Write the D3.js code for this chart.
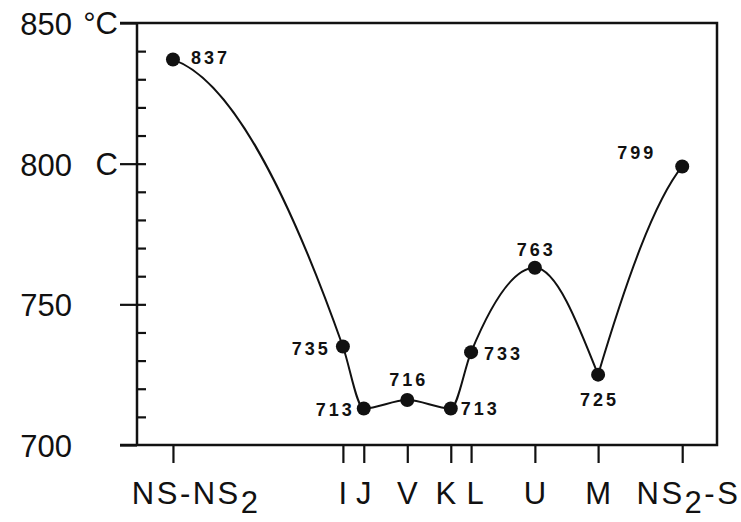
<!DOCTYPE html>
<html>
<head>
<meta charset="UTF-8">
<script src="https://d3js.org/d3.v7.min.js"></script>
<style>
  body { margin: 0; background: #fff; }
  svg text { font-family: "Liberation Sans", Arial, sans-serif; fill: #111; }
  .axis line { stroke: #111; stroke-width: 2.2px; }
  .axis .domain { display: none; }
  .frame { stroke: #111; stroke-width: 2.5px; fill: none; }
  .curve { fill: none; stroke: #111; stroke-width: 2px; }
  .dot { fill: #111; }
  .val { font-size: 18px; font-weight: bold; letter-spacing: 3px; }
  .tick-label { font-size: 31px; }
  .cat { font-size: 31px; letter-spacing: 2.5px; }
</style>
</head>
<body>
<svg id="chart" width="741" height="522"></svg>
<script>
// compositions along the join (0-100 scale), their names and liquidus temperatures
const categories = ["NS-NS_2", "I", "J", "V", "K", "L", "U", "M", "NS_2-S"];
const composition = [6.2, 35.5, 39.1, 46.6, 54.1, 57.6, 68.6, 79.5, 94.0];
const temperature = [837, 735, 713, 716, 713, 733, 763, 725, 799];
const yTicks = [700, 750, 800, 850];
const yMinor = [710, 720, 730, 740, 750, 760, 770, 780, 790, 800, 810, 820, 830, 840];
const yUnits = [[850, "°C"], [800, "C"]];

const svg = d3.select("#chart");
const x = d3.scaleLinear().domain([0, 100]).range([137, 717]);
const y = d3.scaleLinear().domain([700, 850]).range([445, 23]);
const [x0, x1] = x.range(), yTop = y(850), yBot = y(700);

// frame, top and bottom lines stick out left of the axis
svg.append("path").attr("class", "frame")
    .attr("d", `M${x0 - 17},${yTop}H${x1}V${yBot}H${x0 - 17}M${x0},${yTop}V${yBot}`);

svg.append("g").attr("class", "axis")
    .attr("transform", `translate(${x0},0)`)
    .call(d3.axisRight(y).tickValues(yMinor).tickSize(9).tickFormat(""));

svg.append("g").attr("class", "axis")
    .attr("transform", `translate(${x0},0)`)
    .call(d3.axisLeft(y).tickValues(yTicks).tickSize(17).tickPadding(48))
    .selectAll("text").attr("class", "tick-label").attr("dy", "0.37em");

svg.selectAll(".unit").data(yUnits).join("text")
    .attr("class", "tick-label unit")
    .attr("text-anchor", "end")
    .attr("x", x0 - 19)
    .attr("y", d => y(d[0]))
    .attr("dy", "0.37em")
    .text(d => d[1]);

svg.append("g").attr("class", "axis")
    .attr("transform", `translate(0,${yBot})`)
    .call(d3.axisBottom(x).tickValues(composition).tickSize(18).tickFormat(""));

// category names, "_2" is a lowered 2
const catShift = {"NS-NS_2": 22, "NS_2-S": 5, "K": -5, "L": 4};
svg.append("g").selectAll("text").data(categories).join("text")
    .attr("class", "cat")
    .attr("text-anchor", "middle")
    .attr("x", (d, i) => x(composition[i]) + (catShift[d] || 0) + 1.25)
    .attr("y", yBot + 59)
    .each(function(d) {
        const t = d3.select(this);
        d.split(/_(\d)/).forEach((part, k) => {
            if (!part) return;
            t.append("tspan")
                .attr("dy", k % 2 ? 9 : (k > 0 ? -9 : 0))
                .text(part);
        });
    });

// curve: monotone tangents inside, cusp at M, hand-drawn ends
const pts = composition.map((c, i) => [x(c), y(temperature[i])]);
const pieces = [{from: 0, to: 7, k0: 0.2, k1: 1.5}, {from: 7, to: 8, k0: 1.35, k1: 0.5}];
const slope = (a, b) => (b[1] - a[1]) / (b[0] - a[0]);
const path = d3.path();
pieces.forEach(p => {
    const q = pts.slice(p.from, p.to + 1);
    const n = q.length;
    const s = d3.range(n - 1).map(i => slope(q[i], q[i + 1]));
    const m = q.map((_, i) => {
        if (i === 0) return p.k0 * s[0];
        if (i === n - 1) return p.k1 * s[n - 2];
        const h0 = q[i][0] - q[i - 1][0], h1 = q[i + 1][0] - q[i][0];
        const pm = (s[i - 1] * h1 + s[i] * h0) / (h0 + h1);
        return (Math.sign(s[i - 1]) + Math.sign(s[i])) *
            Math.min(Math.abs(s[i - 1]), Math.abs(s[i]), 0.5 * Math.abs(pm)) || 0;
    });
    path.moveTo(q[0][0], q[0][1]);
    for (let i = 0; i < n - 1; i++) {
        const h = (q[i + 1][0] - q[i][0]) / 3;
        path.bezierCurveTo(q[i][0] + h, q[i][1] + h * m[i],
            q[i + 1][0] - h, q[i + 1][1] - h * m[i + 1],
            q[i + 1][0], q[i + 1][1]);
    }
});
svg.append("path").attr("class", "curve").attr("d", path.toString());

svg.selectAll(".dot").data(temperature).join("circle")
    .attr("class", "dot")
    .attr("cx", (d, i) => x(composition[i]))
    .attr("cy", d => y(d))
    .attr("r", 7);

// where each value sits next to its dot
const place = [
    {dx: 18, dy: 4, a: "start"}, {dx: -15, dy: 8, a: "end"}, {dx: -12, dy: 8, a: "end"},
    {dx: 0, dy: -14, a: "middle"}, {dx: 10, dy: 7, a: "start"}, {dx: 13, dy: 8, a: "start"},
    {dx: 0, dy: -12, a: "middle"}, {dx: 0, dy: 31, a: "middle"}, {dx: -47, dy: -7, a: "middle"}
];
const lsFix = {start: 0, middle: 1.5, end: 3};
svg.selectAll(".val").data(temperature).join("text")
    .attr("class", "val")
    .attr("text-anchor", (d, i) => place[i].a)
    .attr("x", (d, i) => x(composition[i]) + place[i].dx + lsFix[place[i].a])
    .attr("y", (d, i) => y(d) + place[i].dy)
    .text(d => d);
</script>
</body>
</html>
